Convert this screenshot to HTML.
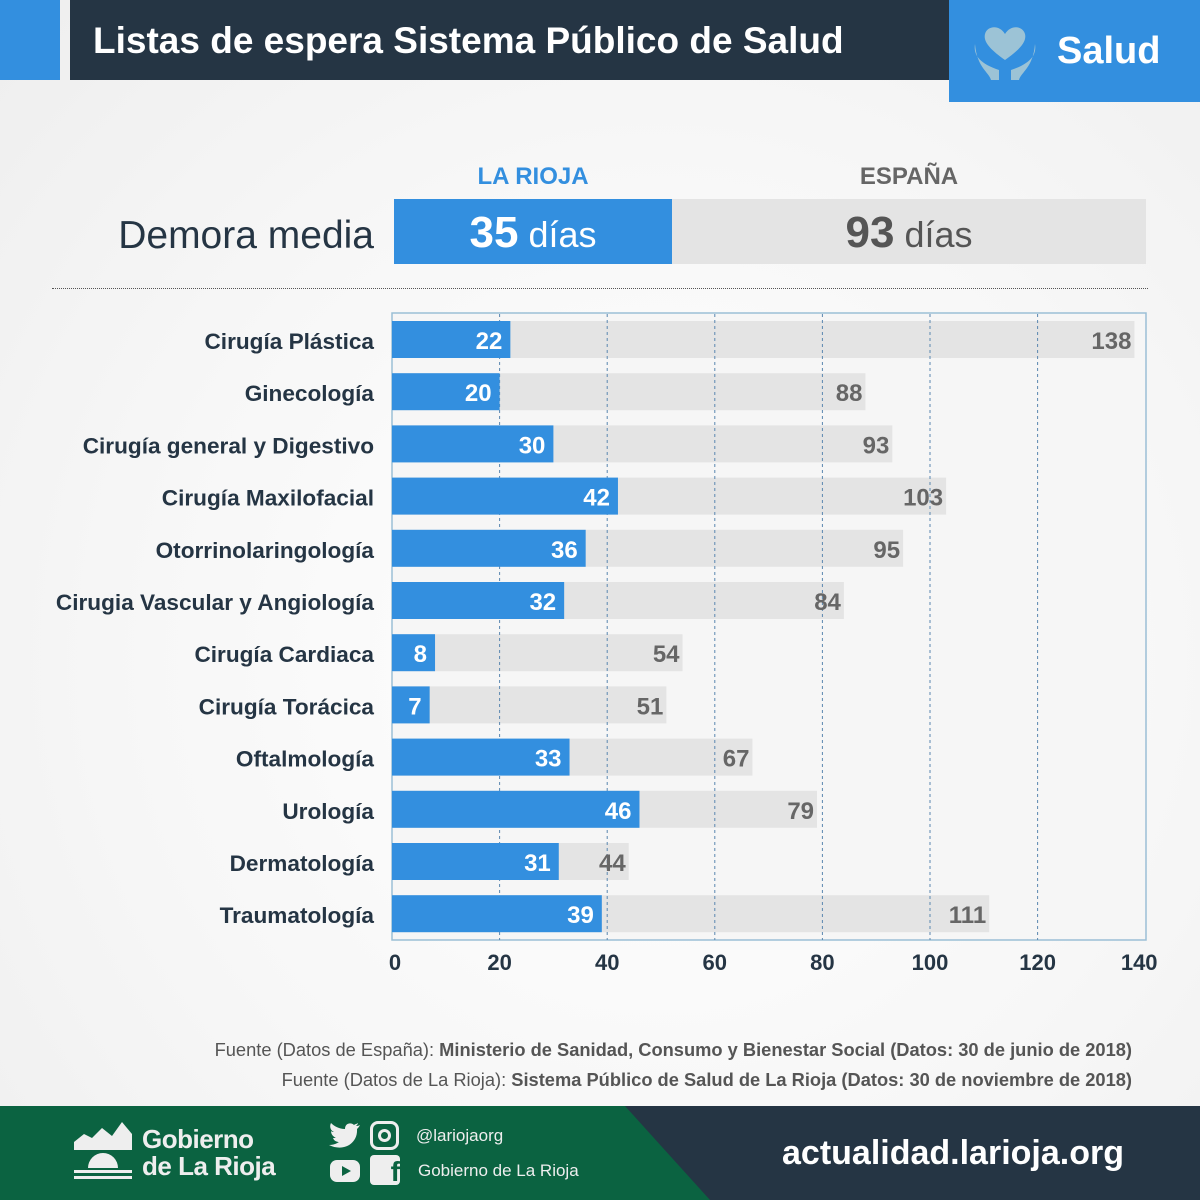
<!DOCTYPE html>
<html><head><meta charset="utf-8">
<style>
body{margin:0;width:1200px;height:1200px;overflow:hidden;font-family:"Liberation Sans",sans-serif;background:radial-gradient(ellipse at 55% 55%,#ffffff 0%,#f7f7f7 55%,#eeeeee 100%);position:relative}
.abs{position:absolute}
</style></head><body>
<div class="abs" style="left:0;top:0;width:60px;height:80px;background:#338fdf"></div>
<div class="abs" style="left:70px;top:0;width:880px;height:80px;background:#253544"></div>
<div class="abs" style="left:93px;top:20px;color:#fff;font-size:37px;font-weight:bold">Listas de espera Sistema Público de Salud</div>
<div class="abs" style="left:949px;top:0;width:251px;height:102px;background:#338fdf">
 <svg class="abs" style="left:22px;top:22px" width="68" height="60" viewBox="0 0 68 60">
  <path d="M34 38 C20 28 12 20 14 12 C16 4 28 2 34 12 C40 2 52 4 54 12 C56 20 48 28 34 38Z" fill="#9cc3d6"/>
  <path d="M4 22 C2 34 10 42 28 48 L28 58 L20 58 C18 50 6 46 4 22Z" fill="#9cc3d6"/>
  <path d="M64 22 C66 34 58 42 40 48 L40 58 L48 58 C50 50 62 46 64 22Z" fill="#9cc3d6"/>
 </svg>
 <div class="abs" style="left:108px;top:30px;color:#fff;font-size:38px;font-weight:bold">Salud</div>
</div>

<div class="abs" style="left:394px;top:163px;width:278px;text-align:center;color:#338fdf;font-size:24px;font-weight:bold">LA RIOJA</div>
<div class="abs" style="left:672px;top:163px;width:474px;text-align:center;color:#666;font-size:24px;font-weight:bold">ESPAÑA</div>
<div class="abs" style="left:40px;top:214px;width:334px;text-align:right;color:#253544;font-size:39px">Demora media</div>
<div class="abs" style="left:394px;top:199px;width:278px;height:65px;background:#338fdf;color:#fff;text-align:center;line-height:68px;font-size:36px"><b style="font-size:44px">35</b> días</div>
<div class="abs" style="left:672px;top:199px;width:474px;height:65px;background:#e4e4e4;color:#555;text-align:center;line-height:68px;font-size:36px"><b style="font-size:44px">93</b> días</div>
<div class="abs" style="left:52px;top:288px;width:1096px;border-top:1px dotted #555"></div>

<svg class="abs" style="left:0;top:0" width="1200" height="1000" id="chart"></svg>

<div class="abs" style="right:68px;top:1039px;color:#555;font-size:18.3px">Fuente (Datos de España): <b>Ministerio de Sanidad, Consumo y Bienestar Social (Datos: 30 de junio de 2018)</b></div>
<div class="abs" style="right:68px;top:1069px;color:#555;font-size:18.3px">Fuente (Datos de La Rioja): <b>Sistema Público de Salud de La Rioja (Datos: 30 de noviembre de 2018)</b></div>

<div class="abs" style="left:0;top:1106px;width:1200px;height:94px;background:#253544"></div>
<svg class="abs" style="left:0;top:1106px" width="720" height="94"><polygon points="0,0 625,0 710,94 0,94" fill="#0b6341"/></svg>
<svg class="abs" style="left:74px;top:1120px" width="60" height="62">
 <polygon points="0,22 10,14 18,18 28,8 38,16 48,2 58,14 58,30 0,30" fill="#eee"/>
 <path d="M14 48 A15 15 0 0 1 44 48Z" fill="#eee"/>
 <rect x="0" y="50" width="58" height="3" fill="#eee"/><rect x="0" y="56" width="58" height="3" fill="#eee"/>
</svg>
<div class="abs" style="left:142px;top:1126px;color:#eee;font-size:26px;font-weight:bold;line-height:27px;letter-spacing:-0.5px">Gobierno<br>de La Rioja</div>
<svg class="abs" style="left:329px;top:1122px" width="32" height="26" viewBox="0 0 32 26"><path d="M31 3 C29 4 28 4 27 4 C28 3 29 2 29 1 C28 2 26 2 25 3 C22 0 16 1 16 7 C10 7 5 4 2 1 C0 5 2 9 5 10 C4 10 3 10 2 9 C2 13 5 15 7 16 C6 16 5 16 4 16 C5 19 8 20 10 20 C7 22 4 23 0 23 C14 30 29 22 28 7 C29 6 30 5 31 3Z" fill="#eee"/></svg>
<div class="abs" style="left:370px;top:1121px;width:29px;height:29px;border:3px solid #eee;border-radius:8px;box-sizing:border-box"><div style="position:absolute;left:5px;top:5px;width:13px;height:13px;border:3px solid #eee;border-radius:50%;box-sizing:border-box"></div></div>
<div class="abs" style="left:330px;top:1160px;width:30px;height:22px;background:#eee;border-radius:7px"><div style="position:absolute;left:12px;top:6px;border-left:9px solid #0b6341;border-top:5px solid transparent;border-bottom:5px solid transparent"></div></div>
<div class="abs" style="left:370px;top:1155px;width:30px;height:30px;background:#eee;border-radius:4px;color:#0b6341;font-weight:bold;font-size:28px;text-align:right;line-height:34px">f</div>
<div class="abs" style="left:416px;top:1126px;color:#eee;font-size:17px">@lariojaorg</div>
<div class="abs" style="left:418px;top:1161px;color:#eee;font-size:17px">Gobierno de La Rioja</div>
<div class="abs" style="left:782px;top:1134px;color:#fff;font-size:34px;font-weight:bold">actualidad.larioja.org</div>

<script>
const categories=["Cirugía Plástica","Ginecología","Cirugía general y Digestivo","Cirugía Maxilofacial","Otorrinolaringología","Cirugia Vascular y Angiología","Cirugía Cardiaca","Cirugía Torácica","Oftalmología","Urología","Dermatología","Traumatología"];
const riojaValues=[22,20,30,42,36,32,8,7,33,46,31,39];
const espanaValues=[138,88,93,103,95,84,54,51,67,79,44,111];
const ticks=[0,20,40,60,80,100,120,140];
const svg=document.getElementById('chart');
const NS='http://www.w3.org/2000/svg';
const x0=392,scale=5.38,top0=321,pitch=52.2,bh=37;
const xs=v=>x0+v*scale;
function mk(t,a){const e=document.createElementNS(NS,t);for(const k in a)e.setAttribute(k,a[k]);svg.appendChild(e);return e;}
let r=mk('rect',{x:392,y:313,width:754,height:627,fill:'#f6f6f6',stroke:'#9bbfd6','stroke-width':1.5});


categories.forEach((c,i)=>{
 const y=top0+i*pitch;
 let g=mk('rect',{x:x0,y:y,width:espanaValues[i]*scale,height:bh,fill:'#e4e4e4'});
 
 
});
ticks.slice(1,-1).forEach(t=>{
 let l=mk('line',{x1:xs(t),x2:xs(t),y1:314,y2:940,stroke:'#5a87b0','stroke-width':1,'stroke-dasharray':'3,3'});
 
 
});
categories.forEach((c,i)=>{
 const y=top0+i*pitch;
 let b=mk('rect',{x:x0,y:y,width:riojaValues[i]*scale,height:bh,fill:'#338fdf'});
 
 
 let t=mk('text',{x:xs(riojaValues[i])-8,y:y+28,'text-anchor':'end',fill:'#fff','font-size':24,'font-weight':'bold'});t.textContent=riojaValues[i];
 
 
 let t2=mk('text',{x:xs(espanaValues[i])-3,y:y+28,'text-anchor':'end',fill:'#666','font-size':24,'font-weight':'bold'});t2.textContent=espanaValues[i];
 
 
 let lb=mk('text',{x:374,y:y+28,'text-anchor':'end',fill:'#253544','font-size':22.6,'font-weight':'bold'});lb.textContent=c;
 
 
});
ticks.forEach(t=>{
 let tx=mk('text',{x:xs(t)+(t==0?3:t==140?-6:0),y:970,'text-anchor':'middle',fill:'#253544','font-size':22,'font-weight':'bold'});tx.textContent=t;
 
 
});
</script>
</body></html>
